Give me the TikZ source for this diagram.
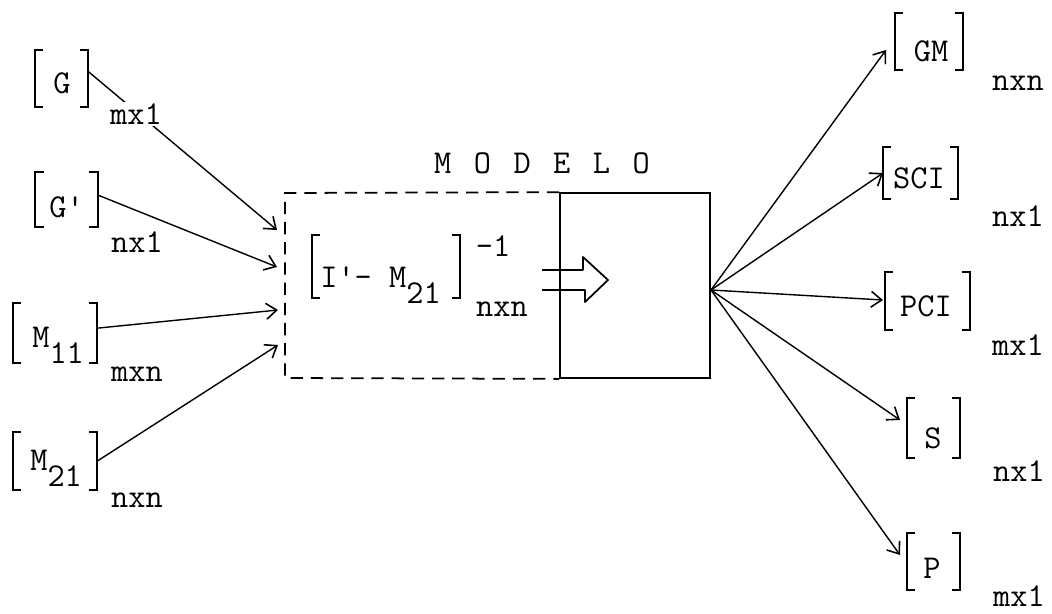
\documentclass[tikz,border=0pt]{standalone}
\usepackage{fontspec}
\usetikzlibrary{arrows.meta,calc}
\tikzset{
  every node/.style={font=\ttfamily\fontsize{19}{22}\selectfont},
  txt/.style={inner sep=0pt},
  bx/.style 2 args={inner sep=0pt, minimum width=#1*0.02cm, minimum height=#2*0.02cm},
  brk/.style={line width=1.1pt},
  con/.style={line width=0.8pt, -{Straight Barb[length=6pt,width=9pt,line width=0.9pt]}},
  lab/.style={inner sep=1pt, fill=white},
  dashbox/.style={line width=1pt, dash pattern=on 7pt off 4.5pt},
  solidbox/.style={draw, line width=1pt, inner sep=0pt},
}
\newcommand\drawbrk[1]{%
  \draw[brk] ([xshift=0.17cm]#1.north west) -- (#1.north west) -- (#1.south west) -- ([xshift=0.17cm]#1.south west);
  \draw[brk] ([xshift=-0.17cm]#1.north east) -- (#1.north east) -- (#1.south east) -- ([xshift=-0.17cm]#1.south east);}
\newcommand\lowr[1]{\raisebox{-0.32cm}{#1}}
\begin{document}
\begin{tikzpicture}[x=0.02cm,y=-0.02cm]
\useasboundingbox (0,0) rectangle (1052,613);

% ---- inputs ----
\node[bx={53}{57}] (bG) at (61.5,78.5) {};
\node[txt] (tG) at (62,83) {G};
\node[bx={62}{55}] (bGp) at (66.5,199.5) {};
\node[txt, anchor=base west] (tGp) at (49,217) {G\textquotesingle};
\node[bx={84}{60}] (bM11) at (55,333) {};
\node[txt, anchor=base west] (tM11) at (32,347) {M\lowr{11}};
\node[bx={84}{58}] (bM21) at (55,461) {};
\node[txt, anchor=base west] (tM21) at (30,470) {M\lowr{21}};
\foreach \b in {bG,bGp,bM11,bM21} {\drawbrk{\b}}

% ---- model ----
\node[solidbox, minimum width=150*0.02cm, minimum height=185*0.02cm] (box) at (635,285.5) {};
\draw[dashbox] (box.north west) -- (285,193) -- (285,378) -- (box.south west);
\node[txt] (modelo) at (542,163) {M\hspace{0.45cm}O\hspace{0.45cm}D\hspace{0.45cm}E\hspace{0.45cm}L\hspace{0.45cm}O};
\node[bx={148}{63}] (bI) at (386,266.5) {};
\drawbrk{bI}
\node[txt, anchor=base west] (tI) at (320,287) {I\textquotesingle- M\lowr{21}};
\node[txt] (inv) at (493,246) {-1};
\node[txt] (dimI) at (502,309) {nxn};
\draw[line width=1pt, line join=round] (542,270) -- (583,270) -- (583,257) -- (608,280) -- (585,302) -- (585,290) -- (542,290);

% ---- input connectors ----
\coordinate (iG) at (277,230);
\coordinate (iGp) at (277,267);
\coordinate (iM11) at (278,310);
\coordinate (iM21) at (278,345);
\draw[con] ($(bG.north east)!0.38!(bG.south east)$) -- (iG);
\draw[con] ($(bGp.north east)!0.42!(bGp.south east)$) -- (iGp);
\draw[con] ($(bM11.north east)!0.42!(bM11.south east)$) -- (iM11);
\draw[con] (bM21.east) -- (iM21);
\node[lab] (lG) at (136,114) {mx1};
\node[lab] (lGp) at (137,242) {nx1};
\node[lab] (lM11) at (137,374) {mxn};
\node[lab] (lM21) at (137,500) {nxn};

% ---- outputs ----
\node[bx={68}{57}] (bGM) at (929,41.5) {};
\node[txt] (tGM) at (931,51) {GM};
\node[bx={75}{52}] (bSCI) at (920.5,173) {};
\node[txt] (tSCI) at (919,178) {SCI};
\node[bx={85}{58}] (bPCI) at (927.5,301) {};
\node[txt] (tPCI) at (926,306) {PCI};
\node[bx={53}{60}] (bS) at (933.5,428) {};
\node[txt] (tS) at (933,438) {S};
\node[bx={53}{57}] (bP) at (933.5,561.5) {};
\node[txt] (tP) at (932,568) {P};
\foreach \b in {bGM,bSCI,bPCI,bS,bP} {\drawbrk{\b}}
\node[txt] (lGM) at (1018,83) {nxn};
\node[txt] (lSCI) at (1018,216) {nx1};
\node[txt] (lPCI) at (1018,345) {mx1};
\node[txt] (lS) at (1019,471) {nx1};
\node[txt] (lP) at (1019,596) {mx1};

\coordinate (fan) at (711,290);
\coordinate (oGM) at (886,50);
\coordinate (oSCI) at (883,173);
\coordinate (oPCI) at (883,300);
\coordinate (oS) at (900,420);
\coordinate (oP) at (900,555);
\foreach \t in {oGM,oSCI,oPCI,oS,oP} {\draw[con] (fan) -- (\t);}
\end{tikzpicture}
\end{document}
